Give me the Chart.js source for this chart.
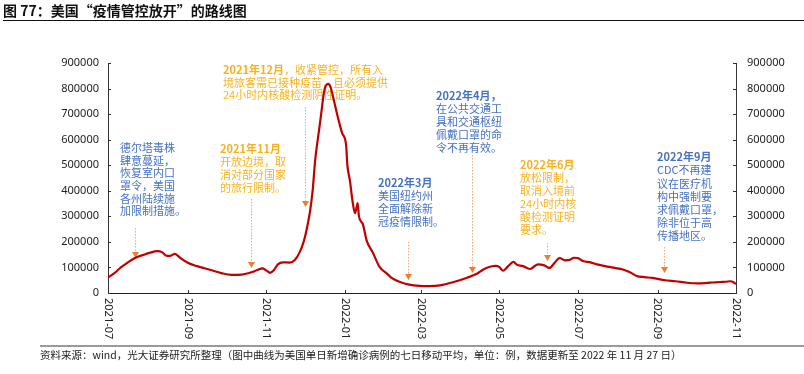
<!DOCTYPE html>
<html>
<head>
<meta charset="utf-8">
<script src="https://cdn.jsdelivr.net/npm/chart.js@4"></script>
<style>
  html, body { margin: 0; padding: 0; background: #fff; }
  #wrap { position: relative; width: 804px; height: 374px; overflow: hidden; }
  #chart { position: absolute; left: 0; top: 0; }
  .title {
    position: absolute; left: 3px; top: 1px; right: 0;
    font: bold 14px "Noto Sans CJK SC", sans-serif; color: #111;
    line-height: 18px; border-bottom: 1px solid #111; padding-bottom: 1px;
  }
  .footer {
    position: absolute; left: 40px; top: 345px; right: 0;
    border-top: 2px solid #9a9a9a; padding-top: 0px;
    font: 10.5px "Noto Sans CJK SC", sans-serif; color: #222; line-height: 15px;
  }
</style>
</head>
<body>
<div id="wrap">
  <canvas id="chart" width="804" height="374"></canvas>
  <div class="title">图 77：美国“疫情管控放开”的路线图</div>
  <div class="footer">资料来源：wind，光大证券研究所整理（图中曲线为美国单日新增确诊病例的七日移动平均，单位：例，数据更新至 2022 年 11 月 27 日）</div>
</div>
<script>
// 七日移动平均
const dates = [
  '2021-07-01','2021-07-06','2021-07-11','2021-07-16','2021-07-22','2021-07-29','2021-08-03','2021-08-08',
  '2021-08-12','2021-08-15','2021-08-18','2021-08-22','2021-08-26','2021-09-01','2021-09-08','2021-09-14',
  '2021-09-20','2021-09-27','2021-10-05','2021-10-13','2021-10-21','2021-10-25','2021-10-29','2021-11-01',
  '2021-11-04','2021-11-07','2021-11-10','2021-11-14','2021-11-19','2021-11-23','2021-11-27','2021-11-30',
  '2021-12-02','2021-12-05','2021-12-07','2021-12-09','2021-12-12','2021-12-14','2021-12-16','2021-12-19',
  '2021-12-21','2021-12-23','2021-12-26','2021-12-28','2021-12-30','2022-01-02','2022-01-03','2022-01-05',
  '2022-01-07','2022-01-09','2022-01-11','2022-01-12','2022-01-15','2022-01-18','2022-01-23','2022-01-28',
  '2022-02-03','2022-02-07','2022-02-13','2022-02-20','2022-02-28','2022-03-08','2022-03-16','2022-03-26',
  '2022-04-06','2022-04-14','2022-04-18','2022-04-22','2022-04-28','2022-05-01','2022-05-04','2022-05-08',
  '2022-05-12','2022-05-15','2022-05-19','2022-05-25','2022-05-31','2022-06-05','2022-06-09','2022-06-13',
  '2022-06-17','2022-06-21','2022-06-25','2022-06-28','2022-07-01','2022-07-05','2022-07-11','2022-07-16',
  '2022-07-24','2022-07-30','2022-08-05','2022-08-11','2022-08-16','2022-08-22','2022-08-28','2022-09-07',
  '2022-09-15','2022-09-24','2022-10-02','2022-10-08','2022-10-14','2022-10-20','2022-10-24','2022-10-28',
  '2022-10-30','2022-11-01'
];
const cases = [
  60000, 78000, 100000, 118000, 137000, 150000, 158000, 164000,
  160000, 147000, 145000, 153000, 138000, 118000, 105000, 97000,
  88000, 78000, 71000, 72000, 82000, 90000, 96000, 88000,
  79000, 90000, 112000, 120000, 119000, 128000, 160000, 200000,
  240000, 320000, 400000, 520000, 637000, 715000, 790000, 818000,
  805000, 765000, 700000, 660000, 625000, 580000, 500000, 440000,
  360000, 312000, 352000, 300000, 270000, 205000, 156000, 102000,
  75000, 57000, 43000, 33000, 28000, 27000, 30000, 42000,
  60000, 76000, 90000, 100000, 106000, 102000, 87000, 105000,
  122000, 110000, 106000, 94000, 112000, 108000, 98000, 118000,
  137000, 128000, 130000, 138000, 137000, 125000, 120000, 112000,
  103000, 98000, 92000, 80000, 66000, 62000, 59000, 50000,
  46000, 40000, 38000, 39000, 41000, 43000, 44000, 46000,
  42000, 35000
];
const tickLabels = ['2021-07','2021-09','2021-11','2022-01','2022-03','2022-05','2022-07','2022-09','2022-11'];
const yTicks = [0, 100000, 200000, 300000, 400000, 500000, 600000, 700000, 800000, 900000];

const BLUE = '#4472C4';
const GOLD = '#F9B21B';
const ARROW = '#ED7D31';

// 注释：文字 + 箭头（箭头按日期与数值定位）
const notes = [
  { color: BLUE, x: 120, y: 148, lh: 12.6, head: null,
    lines: ['德尔塔毒株', '肆意蔓延，', '恢复室内口', '罩令，美国', '各州陆续施', '加限制措施。'],
    arrow: { date: '2021-07-22', from: 254000, to: 137000 } },
  { color: GOLD, x: 220, y: 149, lh: 12.8, head: '2021年11月',
    lines: ['开放边境，取', '消对部分国家', '的旅行限制。'],
    arrow: { date: '2021-10-20', from: 368000, to: 98000 } },
  { color: GOLD, x: 223, y: 70, lh: 12.5, head: '2021年12月', headTail: '，收紧管控，所有入',
    lines: ['境旅客需已接种疫苗，且必须提供', '24小时内核酸检测阴性证明。'],
    arrow: { date: '2021-12-01', from: 728000, to: 337000 } },
  { color: BLUE, x: 378, y: 183, lh: 13, head: '2022年3月',
    lines: ['美国纽约州', '全面解除新', '冠疫情限制。'],
    arrow: { date: '2022-02-19', from: 200000, to: 51000 } },
  { color: BLUE, x: 436, y: 96, lh: 13, head: '2022年4月，',
    lines: ['在公共交通工', '具和交通枢纽', '佩戴口罩的命', '令不再有效。'],
    arrow: { date: '2022-04-10', from: 540000, to: 78000 } },
  { color: GOLD, x: 520, y: 165, lh: 13, head: '2022年6月',
    lines: ['放松限制，', '取消入境前', '24小时内核', '酸检测证明', '要求。'],
    arrow: { date: '2022-06-07', from: 196000, to: 125000 } },
  { color: BLUE, x: 657, y: 157, lh: 13.2, head: '2022年9月',
    lines: ['CDC不再建', '议在医疗机', '构中强制要', '求佩戴口罩，', '除非位于高', '传播地区。'],
    arrow: { date: '2022-09-06', from: 180000, to: 78000 } }
];

const BASE = Date.UTC(2021, 6, 1);
function dayOf(s) {
  const p = s.split('-').map(Number);
  return Math.round((Date.UTC(p[0], p[1] - 1, p[2] || 1) - BASE) / 86400000);
}
const tickValues = tickLabels.map(dayOf);
const FONT = '"Noto Sans CJK SC", sans-serif';

const notesPlugin = {
  id: 'notes',
  beforeDatasetsDraw(chart) {
    const ctx = chart.ctx;
    const xs = chart.scales.x, ys = chart.scales.y;
    ctx.save();
    notes.forEach(n => {
      // 文字
      ctx.fillStyle = n.color;
      ctx.textBaseline = 'middle';
      ctx.textAlign = 'left';
      let y = n.y;
      if (n.head) {
        ctx.font = 'bold 11px ' + FONT;
        ctx.fillText(n.head, n.x, y);
        if (n.headTail) {
          const w = ctx.measureText(n.head).width;
          ctx.font = '11px ' + FONT;
          ctx.fillText(n.headTail, n.x + w, y);
        }
        y += n.lh;
      }
      ctx.font = '11px ' + FONT;
      n.lines.forEach(t => { ctx.fillText(t, n.x, y); y += n.lh; });

      // 箭头
      const ax = Math.round(xs.getPixelForValue(dayOf(n.arrow.date))) + 0.5;
      const y0 = ys.getPixelForValue(n.arrow.from);
      const y1 = ys.getPixelForValue(n.arrow.to);
      ctx.strokeStyle = '#F4A77A';
      ctx.lineWidth = 1;
      ctx.setLineDash([1.5, 1.5]);
      ctx.beginPath();
      ctx.moveTo(ax, y0);
      ctx.lineTo(ax, y1 - 5);
      ctx.stroke();
      ctx.setLineDash([]);
      ctx.fillStyle = ARROW;
      ctx.beginPath();
      ctx.moveTo(ax - 3.5, y1 - 6);
      ctx.lineTo(ax + 3.5, y1 - 6);
      ctx.lineTo(ax, y1);
      ctx.closePath();
      ctx.fill();
    });
    ctx.restore();
  },
  afterDraw(chart) {
    const ctx = chart.ctx;
    const a = chart.chartArea;
    const xs = chart.scales.x, ys = chart.scales.y;
    ctx.save();
    // 内侧刻度
    ctx.strokeStyle = '#333';
    ctx.lineWidth = 1;
    ctx.beginPath();
    yTicks.forEach(v => {
      const py = Math.round(ys.getPixelForValue(v)) + 0.5;
      ctx.moveTo(a.left, py); ctx.lineTo(a.left + 3, py);
      ctx.moveTo(a.right, py); ctx.lineTo(a.right - 3, py);
    });
    tickValues.forEach(v => {
      const px = Math.round(xs.getPixelForValue(v)) + 0.5;
      ctx.moveTo(px, a.bottom); ctx.lineTo(px, a.bottom - 3);
    });
    ctx.stroke();
    // x 轴竖排标签
    ctx.fillStyle = '#222';
    ctx.font = '11px "Noto Sans", sans-serif';
    ctx.textAlign = 'left';
    ctx.textBaseline = 'middle';
    tickValues.forEach((v, i) => {
      const px = xs.getPixelForValue(v);
      ctx.save();
      ctx.translate(px, a.bottom + 5);
      ctx.rotate(Math.PI / 2);
      ctx.fillText(tickLabels[i], 0, 0);
      ctx.restore();
    });
    ctx.restore();
  }
};

const yAxis = (pos, width, pad) => ({
  type: 'linear',
  position: pos,
  min: 0,
  max: 900000,
  afterBuildTicks: s => { s.ticks = yTicks.map(v => ({ value: v })); },
  afterFit: s => { s.width = width; },
  ticks: {
    color: '#222',
    padding: pad,
    font: { family: '"Noto Sans", sans-serif', size: 11 },
    callback: v => String(v)
  },
  grid: { display: false, drawTicks: false },
  border: { display: true, color: '#333', width: 1 }
});

new Chart(document.getElementById('chart'), {
  type: 'line',
  data: {
    datasets: [{
      data: dates.map((d, i) => ({ x: dayOf(d), y: cases[i] })),
      borderColor: '#C00000',
      borderWidth: 2.2,
      pointRadius: 0,
      cubicInterpolationMode: 'monotone',
      fill: false
    }]
  },
  options: {
    responsive: false,
    animation: false,
    devicePixelRatio: 1,
    layout: { padding: { left: 0, right: 0, top: 63, bottom: 81 } },
    plugins: { legend: { display: false }, tooltip: { enabled: false } },
    scales: {
      x: {
        type: 'linear',
        min: 0,
        max: tickValues[tickValues.length - 1],
        afterBuildTicks: s => { s.ticks = tickValues.map(v => ({ value: v })); },
        afterFit: s => { s.height = 0; },
        ticks: { display: false },
        grid: { display: false, drawTicks: false },
        border: { display: true, color: '#222', width: 1 }
      },
      y: yAxis('left', 108, 9),
      y2: yAxis('right', 68, 11)
    }
  },
  plugins: [notesPlugin]
});
</script>
</body>
</html>
